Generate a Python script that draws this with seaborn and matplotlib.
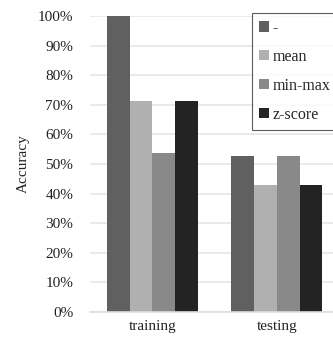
import matplotlib
matplotlib.use("Agg")
import matplotlib.pyplot as plt
import seaborn as sns
import pandas as pd
from matplotlib.patches import Patch
from matplotlib.ticker import PercentFormatter

groups = ["training", "testing"]
methods = ["-", "mean", "min-max", "z-score"]
training_vals = [1.0, 0.714, 0.536, 0.714]
testing_vals = [0.526, 0.429, 0.526, 0.429]
colors = ["#606060", "#b0b0b0", "#898989", "#232323"]

rows = []
for m, a, b in zip(methods, training_vals, testing_vals):
    rows.append({"set": "training", "method": m, "acc": a})
    rows.append({"set": "testing", "method": m, "acc": b})
df = pd.DataFrame(rows)

sns.set_theme(style="white")
plt.rcParams["font.family"] = ["Liberation Serif", "DejaVu Serif"]

fig = plt.figure(figsize=(3.33, 3.41), dpi=100)
ax = fig.add_axes([90/333, 29/341, 243/333, 296/341])
sns.barplot(data=df, x="set", y="acc", hue="method", order=groups,
            hue_order=methods, palette=colors, width=0.73, saturation=1,
            errorbar=None, ax=ax, legend=False, linewidth=0)
ax.set_xlim(-0.5, 1.45)
ax.set_ylim(0, 1.0)
ax.set_yticks([i / 10 for i in range(11)])
ax.yaxis.set_major_formatter(PercentFormatter(1.0, decimals=0))
ax.grid(axis="y", color="#e6e6e6", linewidth=1.2)
ax.set_axisbelow(True)
for s in ["top", "right", "left"]:
    ax.spines[s].set_visible(False)
ax.spines["bottom"].set_color("#dddddd")
ax.spines["bottom"].set_linewidth(1.2)
ax.tick_params(axis="both", length=0, labelsize=11, colors="#222222", pad=12)
ax.tick_params(axis="x", pad=6)
ax.set_xlabel("")
ax.set_ylabel("Accuracy", fontsize=11, color="#222222", labelpad=6)

handles = [Patch(facecolor=c, edgecolor="none", label=m) for m, c in zip(methods, colors)]
leg = fig.legend(handles=handles, loc="upper left",
                 bbox_to_anchor=(252/333, 1 - 13/341), bbox_transform=fig.transFigure,
                 frameon=True, fancybox=False, fontsize=11.5, handlelength=0.6,
                 handleheight=0.6, handletextpad=0.25, labelspacing=0.8,
                 borderpad=0.45, borderaxespad=0)
leg.get_frame().set_edgecolor("#333333")
leg.get_frame().set_linewidth(0.8)

fig.savefig("out.png", dpi=100)
